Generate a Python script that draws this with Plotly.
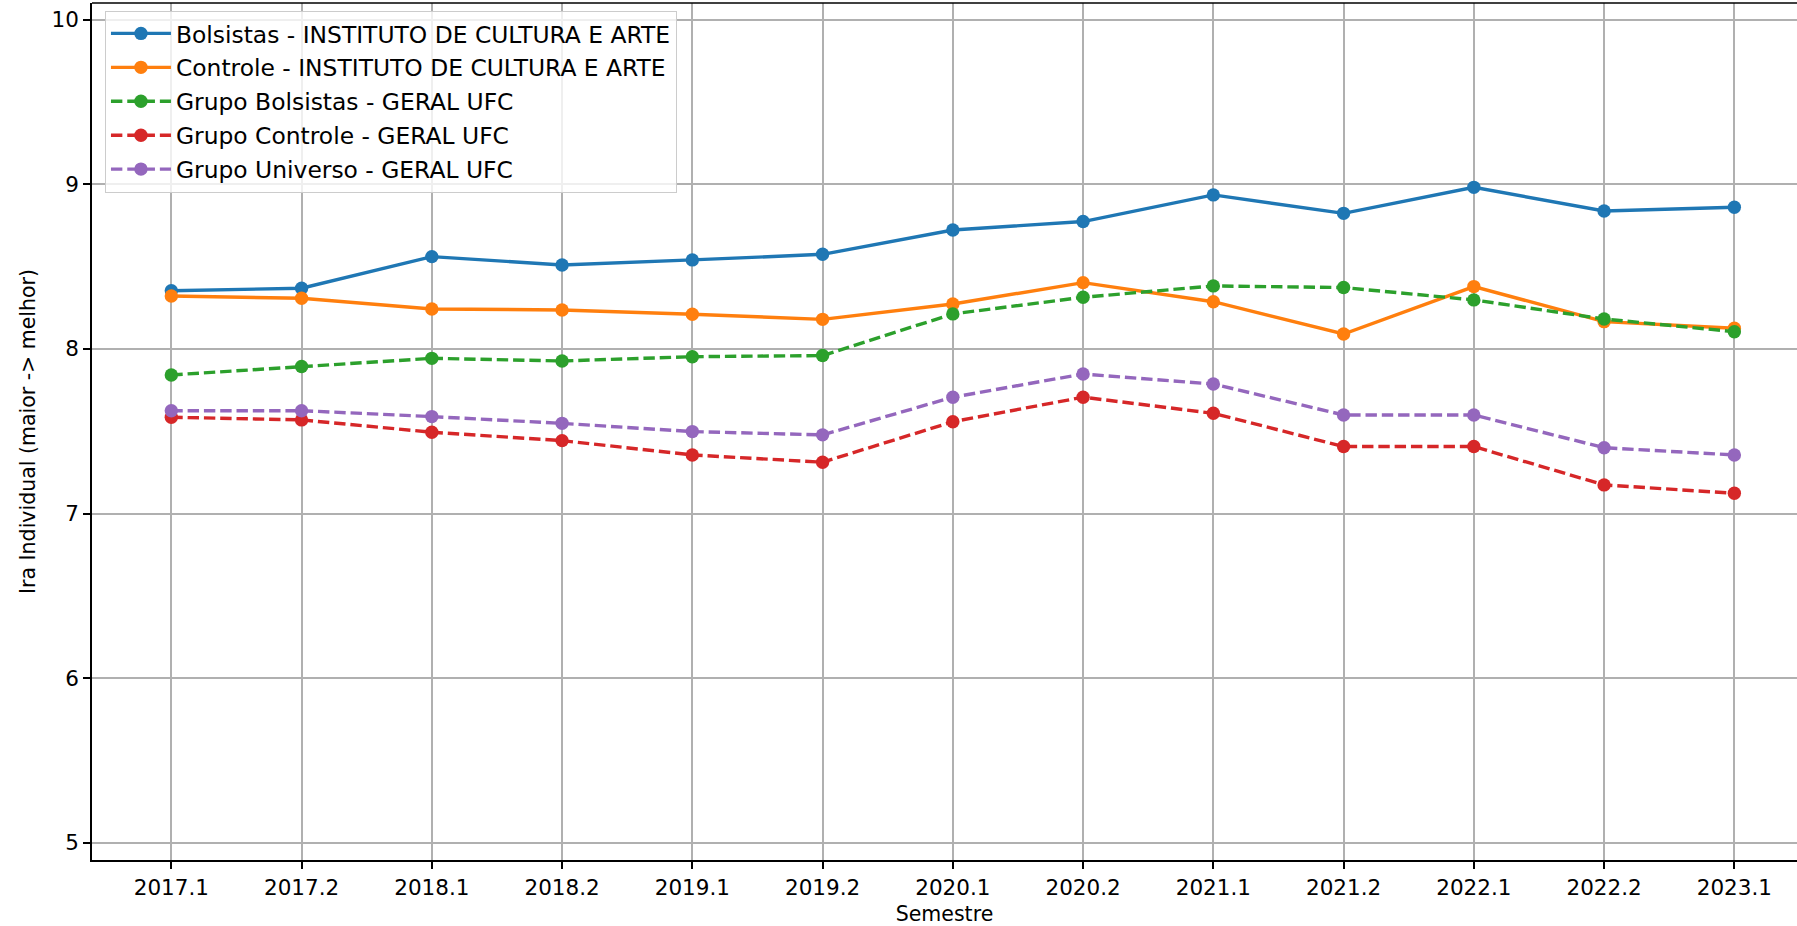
import plotly.graph_objects as go

semestres = ["2017.1", "2017.2", "2018.1", "2018.2", "2019.1", "2019.2", "2020.1",
             "2020.2", "2021.1", "2021.2", "2022.1", "2022.2", "2023.1"]

bolsistas_ica = [8.354, 8.369, 8.561, 8.510, 8.541, 8.575, 8.723, 8.774, 8.936, 8.824, 8.982, 8.838, 8.861]
controle_ica = [8.322, 8.308, 8.243, 8.237, 8.211, 8.180, 8.273, 8.403, 8.287, 8.091, 8.379, 8.166, 8.126]
bolsistas_geral = [7.842, 7.893, 7.943, 7.927, 7.953, 7.960, 8.213, 8.314, 8.383, 8.373, 8.298, 8.182, 8.105]
controle_geral = [7.585, 7.569, 7.494, 7.443, 7.356, 7.312, 7.558, 7.707, 7.609, 7.407, 7.407, 7.174, 7.123]
universo_geral = [7.625, 7.625, 7.589, 7.548, 7.498, 7.478, 7.707, 7.848, 7.787, 7.599, 7.599, 7.400, 7.356]

series = [
    ("Bolsistas - INSTITUTO DE CULTURA E ARTE", bolsistas_ica, "#1f77b4", "solid"),
    ("Controle - INSTITUTO DE CULTURA E ARTE", controle_ica, "#ff7f0e", "solid"),
    ("Grupo Bolsistas - GERAL UFC", bolsistas_geral, "#2ca02c", "11.4px,4.9px"),
    ("Grupo Controle - GERAL UFC", controle_geral, "#d62728", "11.4px,4.9px"),
    ("Grupo Universo - GERAL UFC", universo_geral, "#9467bd", "11.4px,4.9px"),
]

FONT = "DejaVu Sans"
FS_TICK = 21.5
FS_TITLE = 20.5
FS_LEG = 23.4

fig = go.Figure()
for i, (name, vals, color, dash) in enumerate(series):
    fig.add_trace(go.Scatter(
        x=semestres, y=vals, name=name, mode="lines+markers",
        legendgroup=f"g{i}",
        line=dict(color=color, width=3.4, dash=dash),
        marker=dict(color=color, size=13.4, line=dict(width=0)),
    ))

axis_common = dict(
    showline=True, linecolor="black", linewidth=1.6,
    ticks="outside", ticklen=7, tickwidth=1.6, tickcolor="black",
    showgrid=True, gridcolor="#b0b0b0", gridwidth=1.6,
    zeroline=False,
    tickfont=dict(family=FONT, size=FS_TICK, color="black"),
)

fig.update_layout(
    width=1797, height=926,
    margin=dict(l=92, r=0, t=3, b=66),
    paper_bgcolor="white", plot_bgcolor="white",
    font=dict(family=FONT, size=FS_TITLE, color="black"),
    showlegend=True,
    legend=dict(
        x=0.0076, y=0.991, xanchor="left", yanchor="top",
        bgcolor="rgba(255,255,255,0.8)", bordercolor="#cccccc", borderwidth=1,
        font=dict(family=FONT, size=FS_LEG, color="black"),
        tracegroupgap=0.5, itemwidth=60,
    ),
    xaxis=dict(
        type="category", range=[-0.609, 12.481], mirror=False,
        title=dict(text="Semestre", font=dict(family=FONT, size=FS_TITLE, color="black"), standoff=8),
        **axis_common,
    ),
    yaxis=dict(
        range=[4.895, 10.102], tickvals=[5, 6, 7, 8, 9, 10], mirror=False,
        title=dict(text="Ira Individual (maior -> melhor)", font=dict(family=FONT, size=FS_TITLE, color="black"), standoff=10),
        **axis_common,
    ),
    shapes=[dict(type="line", xref="paper", yref="paper", x0=0, x1=1, y0=1, y1=1,
                 line=dict(color="black", width=1.6), layer="above")],
)

fig.write_html(
    "out.html",
    config={"displayModeBar": False},
    post_script="document.body.style.margin='0';document.body.style.overflow='hidden';",
)
